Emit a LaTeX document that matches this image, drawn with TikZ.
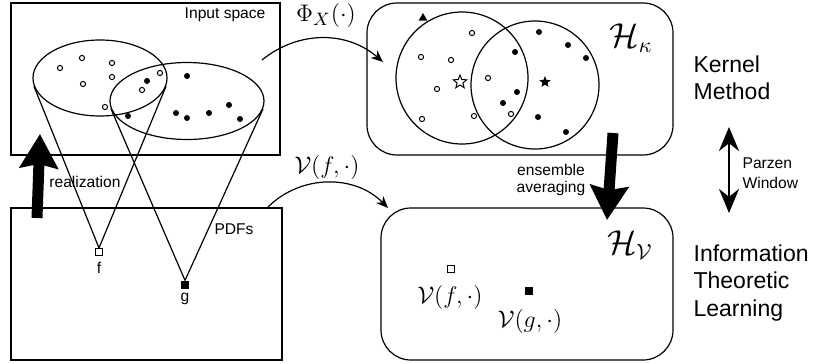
\documentclass[tikz,border=0pt]{standalone}
\usepackage[no-math]{fontspec}
\setmainfont{Liberation Sans}
\usetikzlibrary{arrows.meta, positioning, shapes.geometric}

\begin{document}
\begin{tikzpicture}[
    x=0.5pt, y=-0.5pt,
    >=Stealth,
    font=\fontsize{7.8}{9}\selectfont,
    line width=0.6pt,
    space/.style={draw, minimum width=134.5pt, minimum height=76pt},
    rkhs/.style={draw, rounded corners=15pt, minimum height=76pt},
    cloud/.style={draw, ellipse, inner sep=0pt},
    ring/.style={draw, circle, inner sep=0pt},
    odot/.style={draw, circle, fill=white, inner sep=0pt, minimum size=2.6pt, line width=0.5pt},
    fdot/.style={circle, fill=black, inner sep=0pt, minimum size=3pt},
    osq/.style={draw, rectangle, fill=white, inner sep=0pt, minimum size=3.5pt, line width=0.5pt},
    fsq/.style={rectangle, fill=black, inner sep=0pt, minimum size=4pt},
    big/.style={font=\fontsize{11.5}{13.7}\selectfont, align=left, inner sep=0pt},
    mlbl/.style={font=\fontsize{12.5}{14}\selectfont},
    hlbl/.style={font=\fontsize{16}{18}\selectfont},
    maparrow/.style={line width=0.6pt, -{Stealth[length=6pt, width=5pt]}},
    block/.style={line width=5.5pt, -{Stealth[length=17pt, width=19pt, inset=2pt]}},
    parzen/.style={line width=1.3pt, {Stealth[length=12pt, width=10pt]}-{Stealth[length=12pt, width=10pt]}}
]
    \useasboundingbox (0,0) rectangle (814,364);

    \node[space] (input) at (145.5,79) {};
    \node[space, minimum width=135.5pt] (pdfs) at (146.5,284) {};
    \node[rkhs, minimum width=153pt] (hk) at (520,79) {};
    \node[rkhs, minimum width=146pt] (hv) at (527,284) {};

    \node[anchor=east, inner sep=0pt] (inlbl) at (266,15) {Input space};
    \node (pdflbl) at (234,229) {PDFs};
    \node[hlbl] (hklbl) at (631,38) {$\mathcal{H}_\kappa$};
    \node[hlbl] (hvlbl) at (630,245) {$\mathcal{H}_{\mathcal{V}}$};

    \node[cloud, minimum width=67pt, minimum height=38pt] (cf) at (100,78) {};
    \node[cloud, minimum width=77pt, minimum height=38.5pt] (cg) at (187,101) {};
    \node[ring, minimum size=66pt] (rf) at (462,78) {};
    \node[ring, minimum size=64pt] (rg) at (535,85) {};

    \foreach \p [count=\i] in {(60,68),(82,58),(112,63),(83,84),(112,77),(160,73),(142,90),(105,107)}
        \node[odot] (xf\i) at \p {};
    \foreach \p [count=\i] in {(147,81),(187,76),(128,116),(176,113),(187,118),(209,113),(229,105),(240,119)}
        \node[fdot] (xg\i) at \p {};
    \foreach \p [count=\i] in {(472,33),(421,57),(451,60),(437,89),(488,78),(422,119),(474,116),(511,114)}
        \node[odot] (kf\i) at \p {};
    \foreach \p [count=\i] in {(539,32),(568,45),(515,52),(586,58),(517,92),(503,103),(538,117),(566,132)}
        \node[fdot] (kg\i) at \p {};

    \node[draw, star, star points=5, star point ratio=2.3, fill=white, inner sep=0pt, minimum size=7pt, line width=0.5pt] (mf) at (460,82) {};
    \node[star, star points=5, star point ratio=2.3, fill=black, inner sep=0pt, minimum size=6pt] (mg) at (545,82) {};
    \node[regular polygon, regular polygon sides=3, fill=black, inner sep=0pt, minimum size=5pt] (tri) at (423,18) {};

    \node[osq] (f) at (99,252) {};
    \node[fsq] (g) at (185,285) {};
    \node (flbl) at (99,268) {f};
    \node (glbl) at (185,299) {g};
    \draw (cf.187) -- (f.north);
    \draw (cf.353) -- (f.north);
    \draw (cg.186) -- (g.north);
    \draw (cg.354) -- (g.north);

    \node[osq] (vf) at (451,269) {};
    \node[fsq] (vg) at (529,291) {};
    \node[mlbl] (vflbl) at (450,297) {$\mathcal{V}(f,\cdot)$};
    \node[mlbl] (vglbl) at (530,321) {$\mathcal{V}(g,\cdot)$};

    \coordinate (phiA) at (262,60);
    \coordinate (phiB) at (383,62);
    \draw[maparrow] (phiA) to[bend left=40] (phiB);
    \node[mlbl] (philbl) at (326,15) {$\Phi_X(\cdot)$};
    \coordinate (parA) at (268,207);
    \coordinate (parB) at (388,208);
    \draw[maparrow] (parA) to[bend left=45] (parB);
    \node[mlbl] (parlbl) at (327,167) {$\mathcal{V}(f,\cdot)$};

    \coordinate (realA) at (37,218);
    \coordinate (realB) at (40,134);
    \draw[block] (realA) -- (realB);
    \node (reallbl) at (85,182) {realization};
    \coordinate (ensA) at (613,133);
    \coordinate (ensB) at (607,220);
    \draw[block] (ensA) -- (ensB);
    \node[align=center, font=\fontsize{7.8}{8.5}\selectfont] (enslbl) at (551,180) {ensemble\\averaging};

    \coordinate (pwA) at (729,213);
    \coordinate (pwB) at (729,127);
    \draw[parzen] (pwA) -- (pwB);
    \node[anchor=west, align=left, inner sep=0pt, font=\fontsize{7.8}{10}\selectfont] (pwlbl) at (742,173) {Parzen\\Window};

    \node[big, anchor=west] (kernel) at (693,78) {Kernel\\Method};
    \node[big, anchor=west] (itl) at (693,283) {Information\\Theoretic\\Learning};
\end{tikzpicture}
\end{document}
